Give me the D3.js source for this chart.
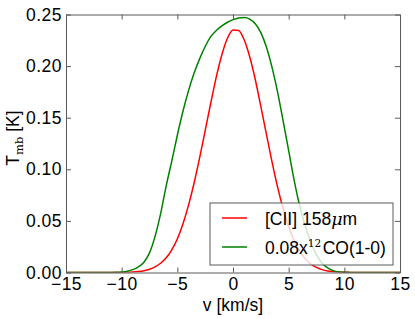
<!DOCTYPE html>
<html>
<head>
<meta charset="utf-8">
<script src="https://cdn.jsdelivr.net/npm/d3@7"></script>
<style>
  body { margin: 0; background: #fff; }
  text { font-family: "Liberation Sans", Arial, sans-serif; fill: #000; }
</style>
</head>
<body>
<div id="chart"><svg></svg></div>
<script>
// velocities (km/s)
const velocity = [-15, -14, -13, -12, -11,
  -10.5, -10, -9.5, -9, -8.5, -8, -7.5, -7, -6.5, -6, -5.5, -5, -4.5, -4, -3.5, -3, -2.5, -2, -1.5, -1, -0.5,
  0, 0.5, 1, 1.5, 2, 2.5, 3, 3.5, 4, 4.5, 5, 5.5, 6, 6.5, 7, 7.5, 8, 8.5, 9, 9.5, 10, 10.5,
  11, 12, 13, 14, 15]

// [CII] 158um, Tmb in K
const cii = [0, 0, 0, 0, 0,
  0.0001, 0.0001, 0.0002, 0.0005, 0.0010, 0.0018, 0.0032, 0.0055, 0.0090, 0.0142, 0.0220, 0.0325, 0.0470, 0.0650, 0.0865, 0.1110, 0.1375, 0.1640, 0.1895, 0.2110, 0.2270,
  0.2350, 0.2345, 0.2255, 0.2090, 0.1870, 0.1610, 0.1340, 0.1075, 0.0830, 0.0620, 0.0445, 0.0308, 0.0205, 0.0132, 0.0082, 0.0049, 0.0028, 0.0015, 0.0008, 0.0004, 0.0002, 0.0001,
  0, 0, 0, 0, 0]

// 0.08 x 12CO(1-0)
const co = [0, 0, 0, 0, 0.0001,
  0.0002, 0.0005, 0.0013, 0.0028, 0.0055, 0.0100, 0.0190, 0.0350, 0.0570, 0.0840, 0.1080, 0.1330, 0.1560, 0.1760, 0.1930, 0.2070, 0.2190, 0.2285, 0.2345, 0.2390, 0.2425,
  0.2450, 0.2465, 0.2470, 0.2455, 0.2410, 0.2325, 0.2185, 0.1990, 0.1750, 0.1470, 0.1180, 0.0890, 0.0640, 0.0450, 0.0290, 0.0170, 0.0090, 0.0045, 0.0018, 0.0006, 0.0002, 0.0001,
  0, 0, 0, 0, 0]

const xTicks = [-15, -10, -5, 0, 5, 10, 15]
const yTicks = [0, 0.05, 0.10, 0.15, 0.20, 0.25]

const series = [
  {name: 'cii', values: cii, color: '#ff0000'},
  {name: 'co', values: co, color: '#008000'}
]

const width = 415, height = 319
const margin = {top: 14.5, right: 15, bottom: 46.5, left: 66}
const w = width - margin.left - margin.right
const h = height - margin.top - margin.bottom
const fontSize = '17.5px'

const svg = d3.select('svg').attr('width', width).attr('height', height)
const g = svg.append('g').attr('transform', 'translate(' + margin.left + ',' + margin.top + ')')

const x = d3.scaleLinear().domain([-15, 15]).range([0, w])
const y = d3.scaleLinear().domain([0, 0.25]).range([h, 0])

// curves (drawn first so the legend can sit on top)
const line = d3.line()
  .x((d, i) => x(velocity[i]))
  .y(d => y(d))
  .curve(d3.curveMonotoneX)

g.append('defs').append('clipPath').attr('id', 'clip')
  .append('rect').attr('width', w).attr('height', h)

g.append('g').attr('clip-path', 'url(#clip)')
  .selectAll('path')
  .data(series)
  .join('path')
  .attr('fill', 'none')
  .attr('stroke', d => d.color)
  .attr('stroke-width', 1.5)
  .attr('d', d => line(d.values))

// axes, ticks inward on all four sides
const fmtX = d3.format('d')
const fmtY = d3.format('.2f')

function styleAxis(sel) {
  sel.selectAll('.domain').attr('stroke', '#5a5a5a')
  sel.selectAll('.tick line').attr('stroke', '#5a5a5a')
  sel.selectAll('text').style('font-size', fontSize).style('letter-spacing', '0.5px').attr('fill', '#000')
}

g.append('g')
  .attr('transform', 'translate(0,' + h + ')')
  .call(d3.axisBottom(x).tickValues(xTicks).tickFormat(fmtX).tickSize(-5).tickSizeOuter(0).tickPadding(5))
  .call(styleAxis)

g.append('g')
  .call(d3.axisTop(x).tickValues(xTicks).tickFormat('').tickSize(-5).tickSizeOuter(0))
  .call(styleAxis)

g.append('g')
  .call(d3.axisLeft(y).tickValues(yTicks).tickFormat(fmtY).tickSize(-5).tickSizeOuter(0).tickPadding(4))
  .call(styleAxis)

g.append('g')
  .attr('transform', 'translate(' + w + ',0)')
  .call(d3.axisRight(y).tickValues(yTicks).tickFormat('').tickSize(-5).tickSizeOuter(0))
  .call(styleAxis)

// axis labels
svg.append('text')
  .attr('x', margin.left + w / 2)
  .attr('y', 311)
  .attr('text-anchor', 'middle')
  .style('font-size', fontSize)
  .text('v [km/s]')

const yl = svg.append('text')
  .attr('transform', 'translate(19,' + 138 + ') rotate(-90)')
  .attr('text-anchor', 'middle')
  .style('font-size', fontSize)
yl.append('tspan').text('T')
yl.append('tspan').attr('dy', 3.5).style('font-family', '"DejaVu Serif", serif').style('font-size', '11.5px').text('mb')
yl.append('tspan').attr('dy', -3.5).text(' [K]')

// legend
const legend = g.append('g').attr('transform', 'translate(' + (210 - margin.left) + ',' + (203 - margin.top) + ')')
legend.append('rect')
  .attr('width', 183).attr('height', 62)
  .attr('fill', '#fff').attr('fill-opacity', 0.8)
  .attr('stroke', '#5a5a5a').attr('stroke-width', 1)

const labels = [
  {color: '#ff0000', y: 15},
  {color: '#008000', y: 44}
]
legend.selectAll('line.key')
  .data(labels)
  .join('line')
  .attr('class', 'key')
  .attr('x1', 12).attr('x2', 37)
  .attr('y1', d => d.y).attr('y2', d => d.y)
  .attr('stroke', d => d.color).attr('stroke-width', 1.5)

const t1 = legend.append('text').attr('x', 55).attr('y', 22).style('font-size', fontSize)
t1.append('tspan').text('[CII] 158')
t1.append('tspan').style('font-family', '"DejaVu Serif", serif').style('font-style', 'italic').text('μ')
t1.append('tspan').text('m')

const t2 = legend.append('text').attr('x', 55).attr('y', 51).style('font-size', fontSize)
t2.append('tspan').text('0.08x')
t2.append('tspan').attr('dy', -7).style('font-family', '"DejaVu Serif", serif').style('font-size', '10.5px').text('12')
t2.append('tspan').attr('dy', 7).attr('dx', 1.5).text('CO(1-0)')
</script>
</body>
</html>
